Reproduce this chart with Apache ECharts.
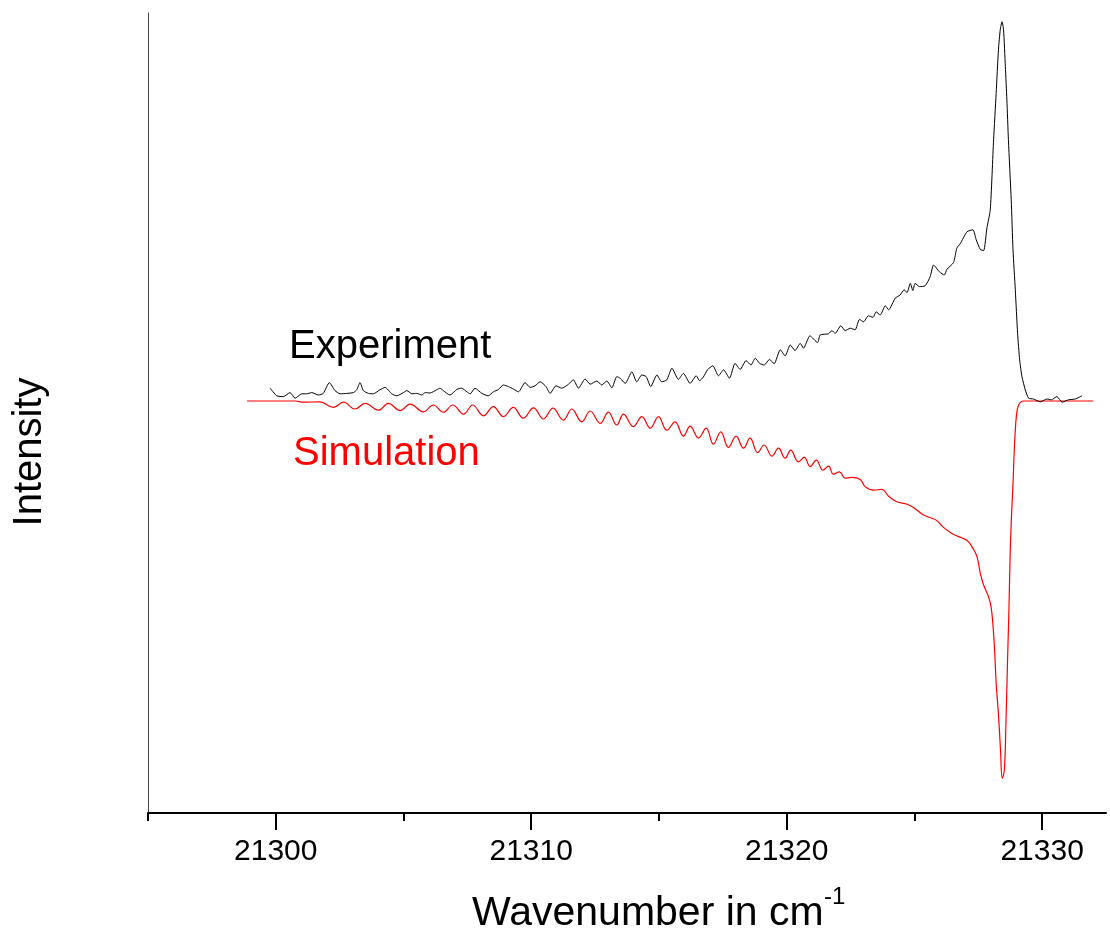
<!DOCTYPE html>
<html>
<head>
<meta charset="utf-8">
<script src="https://cdn.jsdelivr.net/npm/echarts@6/dist/echarts.min.js"></script>
<style>
html,body{margin:0;padding:0;background:#fff;}
#chart{width:1110px;height:943px;}
</style>
</head>
<body>
<div id="chart"></div>
<script>
// Wavenumber (cm^-1) and intensity (arb. units)
const expX = [21299.78,21300.04,21300.30,21300.56,21300.76,21301.02,21301.21,21301.41,21301.67,21301.86,
  21302.10,21302.32,21302.52,21302.78,21303.04,21303.17,21303.30,21303.43,21303.63,21303.82,
  21304.08,21304.28,21304.54,21304.74,21305.00,21305.13,21305.33,21305.52,21305.72,21305.85,
  21306.04,21306.30,21306.43,21306.56,21306.82,21307.09,21307.28,21307.48,21307.61,21307.80,
  21308.07,21308.32,21308.52,21308.72,21308.91,21309.11,21309.30,21309.50,21309.76,21309.96,
  21310.15,21310.35,21310.58,21310.74,21310.97,21311.20,21311.46,21311.65,21311.85,21312.11,
  21312.31,21312.57,21312.76,21312.96,21313.16,21313.35,21313.48,21313.68,21313.94,21314.13,
  21314.33,21314.50,21314.68,21314.92,21315.11,21315.31,21315.51,21315.76,21315.96,21316.22,
  21316.46,21316.59,21316.74,21316.90,21317.11,21317.33,21317.53,21317.76,21317.98,21318.18,
  21318.41,21318.60,21318.77,21318.94,21319.12,21319.33,21319.51,21319.75,21319.94,21320.14,
  21320.33,21320.53,21320.66,21320.91,21321.21,21321.31,21321.64,21321.77,21321.90,21322.12,
  21322.29,21322.49,21322.68,21322.85,21323.01,21323.20,21323.38,21323.50,21323.66,21323.86,
  21323.99,21324.25,21324.44,21324.60,21324.71,21324.84,21324.94,21325.03,21325.20,21325.42,
  21325.62,21325.75,21325.98,21326.17,21326.27,21326.53,21326.66,21326.79,21327.06,21327.29,
  21327.42,21327.58,21327.71,21327.84,21327.97,21328.10,21328.20,21328.29,21328.36,21328.43,
  21328.49,21328.56,21328.62,21328.68,21328.79,21328.86,21328.95,21329.04,21329.12,21329.21,
  21329.34,21329.47,21329.66,21329.93,21330.19,21330.36,21330.58,21330.78,21331.03,21331.30,
  21331.56];
const expY = [0.032,0.013,0.011,0.021,0.007,0.018,0.018,0.021,0.015,0.019,
  0.046,0.026,0.018,0.019,0.021,0.028,0.046,0.026,0.019,0.018,
  0.028,0.034,0.018,0.013,0.021,0.026,0.018,0.019,0.015,0.021,
  0.020,0.028,0.032,0.026,0.015,0.029,0.032,0.023,0.018,0.032,
  0.019,0.013,0.023,0.029,0.040,0.036,0.030,0.023,0.046,0.034,
  0.038,0.048,0.036,0.019,0.038,0.032,0.042,0.053,0.032,0.055,
  0.042,0.050,0.040,0.050,0.033,0.061,0.057,0.044,0.073,0.048,
  0.065,0.061,0.036,0.065,0.048,0.053,0.082,0.054,0.069,0.044,
  0.063,0.051,0.060,0.078,0.088,0.063,0.078,0.057,0.094,0.079,
  0.101,0.090,0.107,0.094,0.090,0.104,0.093,0.128,0.113,0.140,
  0.126,0.144,0.132,0.163,0.146,0.165,0.168,0.176,0.169,0.188,
  0.176,0.182,0.178,0.204,0.198,0.213,0.209,0.223,0.215,0.238,
  0.228,0.257,0.265,0.278,0.271,0.294,0.276,0.294,0.286,0.288,
  0.311,0.340,0.323,0.315,0.329,0.346,0.382,0.393,0.423,0.428,
  0.403,0.379,0.376,0.433,0.478,0.653,0.769,0.878,0.928,0.948,
  0.928,0.836,0.753,0.653,0.503,0.378,0.278,0.169,0.103,0.061,
  0.028,0.007,0.005,-0.002,0.005,0.003,0.011,-0.003,0.003,0.005,
  0.013];
const simX = [21298.88,21300.76,21301.08,21301.73,21302.26,21302.65,21303.10,21303.50,21304.02,21304.41,
  21304.87,21305.26,21305.78,21306.17,21306.56,21306.93,21307.35,21307.71,21308.13,21308.52,
  21308.91,21309.30,21309.69,21310.09,21310.48,21310.85,21311.26,21311.59,21311.98,21312.31,
  21312.70,21313.02,21313.35,21313.61,21314.00,21314.33,21314.66,21314.98,21315.31,21315.63,
  21315.96,21316.22,21316.55,21316.85,21317.13,21317.42,21317.72,21318.02,21318.31,21318.57,
  21318.86,21319.12,21319.42,21319.68,21319.94,21320.16,21320.46,21320.69,21320.92,21321.16,
  21321.42,21321.64,21321.83,21322.07,21322.29,21322.55,21322.88,21323.07,21323.40,21323.73,
  21323.99,21324.31,21324.71,21324.96,21325.36,21325.69,21325.88,21326.14,21326.47,21326.73,
  21326.99,21327.12,21327.25,21327.45,21327.58,21327.71,21327.90,21328.00,21328.07,21328.14,
  21328.20,21328.25,21328.32,21328.37,21328.44,21328.52,21328.58,21328.65,21328.70,21328.75,
  21328.80,21328.86,21328.91,21328.99,21329.08,21329.27,21329.66,21332.01];
const simY = [0,0,-0.003,-0.002,-0.016,-0.003,-0.020,-0.006,-0.023,-0.006,
  -0.024,-0.008,-0.027,-0.010,-0.028,-0.010,-0.033,-0.010,-0.037,-0.014,
  -0.039,-0.016,-0.043,-0.017,-0.045,-0.018,-0.048,-0.020,-0.052,-0.025,
  -0.056,-0.028,-0.060,-0.033,-0.064,-0.039,-0.068,-0.039,-0.073,-0.052,
  -0.088,-0.063,-0.093,-0.068,-0.108,-0.077,-0.116,-0.088,-0.118,-0.093,
  -0.129,-0.110,-0.138,-0.118,-0.143,-0.123,-0.152,-0.141,-0.164,-0.148,
  -0.173,-0.163,-0.183,-0.177,-0.193,-0.191,-0.196,-0.214,-0.223,-0.221,
  -0.238,-0.252,-0.258,-0.266,-0.285,-0.293,-0.299,-0.316,-0.331,-0.339,
  -0.346,-0.352,-0.364,-0.389,-0.431,-0.460,-0.489,-0.514,-0.556,-0.623,
  -0.706,-0.748,-0.814,-0.873,-0.943,-0.923,-0.814,-0.639,-0.523,-0.381,
  -0.289,-0.206,-0.123,-0.039,-0.010,0,0,0];
const majorTicks = [21300, 21310, 21320, 21330];
const minorTicks = [21295, 21305, 21315, 21325];

const expData = expX.map((x, i) => [x, expY[i]]);
const simData = simX.map((x, i) => [x, simY[i]]);

const FONT = '"Liberation Sans", Arial, sans-serif';
const chart = echarts.init(document.getElementById('chart'));
chart.setOption({
  animation: false,
  backgroundColor: '#ffffff',
  grid: { left: 148, right: 4, top: 13, bottom: 130, containLabel: false },
  xAxis: [{
    type: 'value', min: 21295, max: 21332.5,
    axisLine: { show: true, onZero: false, lineStyle: { color: '#000', width: 2 } },
    axisTick: { show: true, customValues: majorTicks, length: 17, lineStyle: { color: '#000', width: 2 } },
    axisLabel: { show: true, customValues: majorTicks, color: '#000', fontSize: 30, fontFamily: FONT, margin: 24,
      formatter: v => String(v) },
    splitLine: { show: false }
  }, {
    type: 'value', min: 21295, max: 21332.5, position: 'bottom',
    axisLine: { show: false, onZero: false },
    axisTick: { show: true, customValues: minorTicks, length: 8, lineStyle: { color: '#000', width: 2 } },
    axisLabel: { show: false },
    splitLine: { show: false }
  }],
  yAxis: {
    type: 'value', min: -1.03, max: 0.97,
    axisLine: { show: true, onZero: false, lineStyle: { color: '#444', width: 1 } },
    axisTick: { show: false },
    axisLabel: { show: false },
    splitLine: { show: false }
  },
  graphic: [
    { type: 'text', x: 289, y: 347, style: { text: 'Experiment', fill: '#000', font: '40px ' + FONT, verticalAlign: 'middle' } },
    { type: 'text', x: 293, y: 454, style: { text: 'Simulation', fill: '#ff0000', font: '40px ' + FONT, verticalAlign: 'middle' } },
    { type: 'text', x: 30, y: 452, rotation: Math.PI / 2, style: { text: 'Intensity', fill: '#000', font: '40px ' + FONT, align: 'center', verticalAlign: 'middle' } },
    { type: 'text', x: 472, y: 914, style: { text: 'Wavenumber in cm', fill: '#000', font: '41px ' + FONT, align: 'left', verticalAlign: 'middle' } },
    { type: 'text', x: 824, y: 897, style: { text: '-1', fill: '#000', font: '24px ' + FONT, align: 'left', verticalAlign: 'middle' } }
  ],
  series: [
    { name: 'Experiment', type: 'line', xAxisIndex: 0, data: expData, showSymbol: false, symbol: 'none',
      smooth: 0.2, lineStyle: { color: '#000', width: 1 }, z: 3 },
    { name: 'Simulation', type: 'line', xAxisIndex: 0, data: simData, showSymbol: false, symbol: 'none',
      smooth: 0.4, lineStyle: { color: '#ff0000', width: 1.2 }, z: 2 }
  ]
});
</script>
</body>
</html>
